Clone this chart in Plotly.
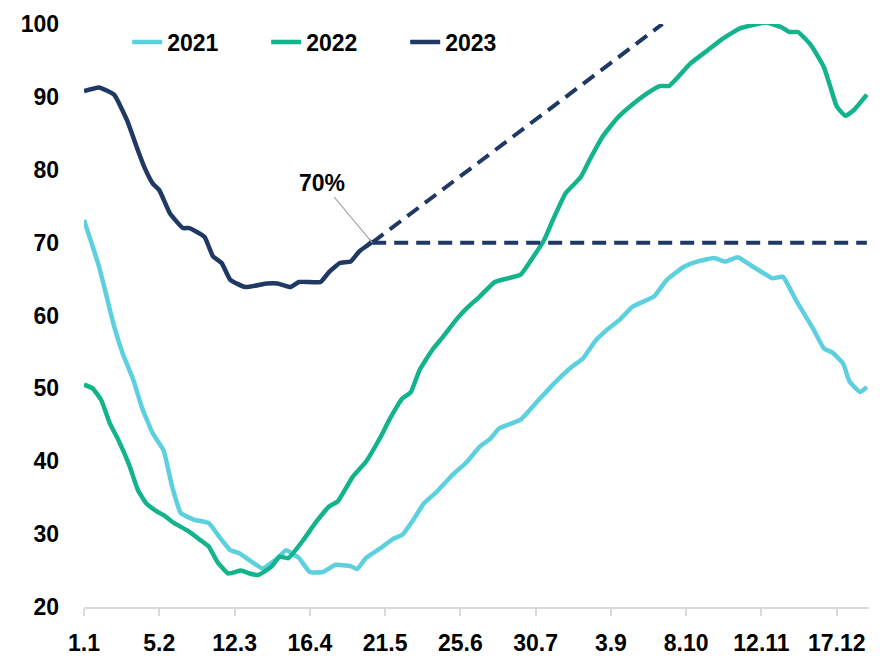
import plotly.graph_objects as go

# ---- data (x = day of year, 0 = 1 Jan) ----
tick_days = [0, 35, 70, 105, 140, 175, 210, 245, 280, 315, 350]
tick_labels = ["1.1", "5.2", "12.3", "16.4", "21.5", "25.6", "30.7", "3.9", "8.10", "12.11", "17.12"]

days_2021 = [0, 7, 14, 18, 23, 27, 32, 37, 41, 45, 51, 58, 63, 68, 72, 79, 83, 90, 94, 100,
             105, 111, 117, 124, 127, 131, 138, 144, 148, 153, 158, 164, 169, 172, 178, 184,
             189, 193, 203, 212, 220, 227, 232, 238, 243, 249, 255, 265, 271, 279, 285, 293,
             298, 304, 310, 316, 320, 325, 331, 339, 344, 348, 353, 356, 361, 364]
vals_2021 = [73.1, 66.7, 58.5, 54.8, 51.1, 47.3, 43.8, 41.5, 36.5, 32.9, 32.0, 31.5, 29.6, 27.8,
             27.4, 26.0, 25.3, 26.7, 27.8, 26.7, 24.8, 24.8, 25.8, 25.6, 25.2, 26.7, 28.1, 29.4,
             29.9, 31.9, 34.2, 35.8, 37.4, 38.3, 39.9, 42.0, 43.1, 44.5, 45.7, 48.6, 51.1, 53.0,
             54.1, 56.6, 58.0, 59.4, 61.2, 62.6, 64.9, 66.7, 67.4, 67.9, 67.4, 68.0, 66.9, 65.8,
             65.1, 65.3, 62.1, 58.2, 55.5, 54.9, 53.4, 50.9, 49.5, 50.2]

days_2022 = [0, 4, 8, 12, 16, 21, 25, 29, 34, 37, 42, 48, 54, 58, 62, 67, 73, 77, 81, 87, 91,
             95, 102, 108, 114, 118, 125, 131, 138, 142, 148, 152, 156, 162, 167, 173, 178, 184,
             191, 197, 203, 209, 214, 218, 224, 231, 235, 241, 248, 254, 262, 268, 272, 282,
             290, 297, 305, 317, 324, 328, 332, 338, 344, 347, 350, 354, 358, 364]
vals_2022 = [50.5, 50.0, 48.4, 45.2, 42.9, 39.5, 36.1, 34.2, 33.1, 32.6, 31.5, 30.5, 29.2, 28.3,
             26.2, 24.6, 25.0, 24.6, 24.4, 25.5, 26.9, 26.7, 29.2, 31.7, 33.8, 34.5, 37.9, 39.9,
             43.4, 45.7, 48.6, 49.5, 52.5, 55.3, 57.1, 59.4, 61.0, 62.6, 64.6, 65.1, 65.6, 68.1,
             70.4, 73.1, 76.8, 79.0, 81.3, 84.5, 87.1, 88.7, 90.5, 91.5, 91.5, 94.6, 96.4, 98.0,
             99.4, 100.2, 99.6, 98.9, 98.9, 97.1, 94.1, 91.4, 88.7, 87.4, 88.2, 90.3]

days_2023 = [0, 7, 14, 20, 25, 28, 32, 35, 40, 46, 49, 56, 60, 64, 68, 75, 85, 90, 96, 100,
             110, 114, 119, 124, 128, 133, 134]
vals_2023 = [90.8, 91.3, 90.3, 86.8, 82.7, 80.4, 78.1, 77.2, 74.0, 72.0, 72.0, 70.8, 68.1, 67.2,
             64.9, 63.9, 64.4, 64.4, 63.9, 64.6, 64.6, 66.0, 67.2, 67.4, 68.8, 69.9, 70.3]

proj_days = [134, 269]
proj_vals = [70, 100]
target_days = [134, 364]
target_vals = [70, 70]
target_label = "70%"

C21, C22, C23 = "#5DD0DF", "#13B38C", "#1F3864"
FONT = "Liberation Sans, Arial, sans-serif"
FS = 23

fig = go.Figure()
fig.add_trace(go.Scatter(x=days_2021, y=vals_2021, mode="lines", name="2021",
                         line=dict(color=C21, width=4.5, shape="spline", smoothing=0.4)))
fig.add_trace(go.Scatter(x=days_2022, y=vals_2022, mode="lines", name="2022",
                         line=dict(color=C22, width=4.5, shape="spline", smoothing=0.4)))
fig.add_trace(go.Scatter(x=days_2023, y=vals_2023, mode="lines", name="2023",
                         line=dict(color=C23, width=4.5, shape="spline", smoothing=0.4)))
fig.add_trace(go.Scatter(x=proj_days, y=proj_vals, mode="lines", showlegend=False,
                         line=dict(color=C23, width=4, dash="14px,8px")))
fig.add_trace(go.Scatter(x=target_days, y=target_vals, mode="lines", showlegend=False,
                         line=dict(color=C23, width=4, dash="14px,8px")))

fig.add_annotation(x=target_days[0], y=target_vals[0], text=target_label,
                   showarrow=True, arrowhead=0, arrowcolor="#A6A6A6", arrowwidth=1.2,
                   ax=-50, ay=-60, standoff=0,
                   font=dict(family=FONT, size=FS, color="#000000", weight="bold"))

fig.update_layout(
    width=883, height=656,
    margin=dict(l=76, r=22, t=16, b=57, autoexpand=False),
    paper_bgcolor="white", plot_bgcolor="white",
    font=dict(family=FONT, size=FS, color="#000000", weight="bold"),
    showlegend=True,
    legend=dict(orientation="h", x=0.055, y=0.969, xanchor="left", yanchor="middle",
                entrywidth=94, entrywidthmode="pixels", bgcolor="rgba(0,0,0,0)",
                font=dict(family=FONT, size=FS, color="#000000", weight="bold"),
                tracegroupgap=0),
)
fig.update_xaxes(range=[0, 365], tickvals=tick_days, ticktext=tick_labels, automargin=False,
                 showgrid=False, zeroline=False, showline=True, linecolor="#D9D9D9",
                 linewidth=1.5, ticks="outside", ticklen=7, tickcolor="#D9D9D9", tickwidth=1.5,
                 ticklabelstandoff=8,
                 tickfont=dict(family=FONT, size=FS, color="#000000", weight="bold"))
fig.update_yaxes(range=[20, 100], tickvals=[20, 30, 40, 50, 60, 70, 80, 90, 100], automargin=False,
                 showgrid=False, zeroline=False, showline=False, ticks="",
                 ticklabelstandoff=24,
                 tickfont=dict(family=FONT, size=FS, color="#000000", weight="bold"))

fig.write_html("out.html")
